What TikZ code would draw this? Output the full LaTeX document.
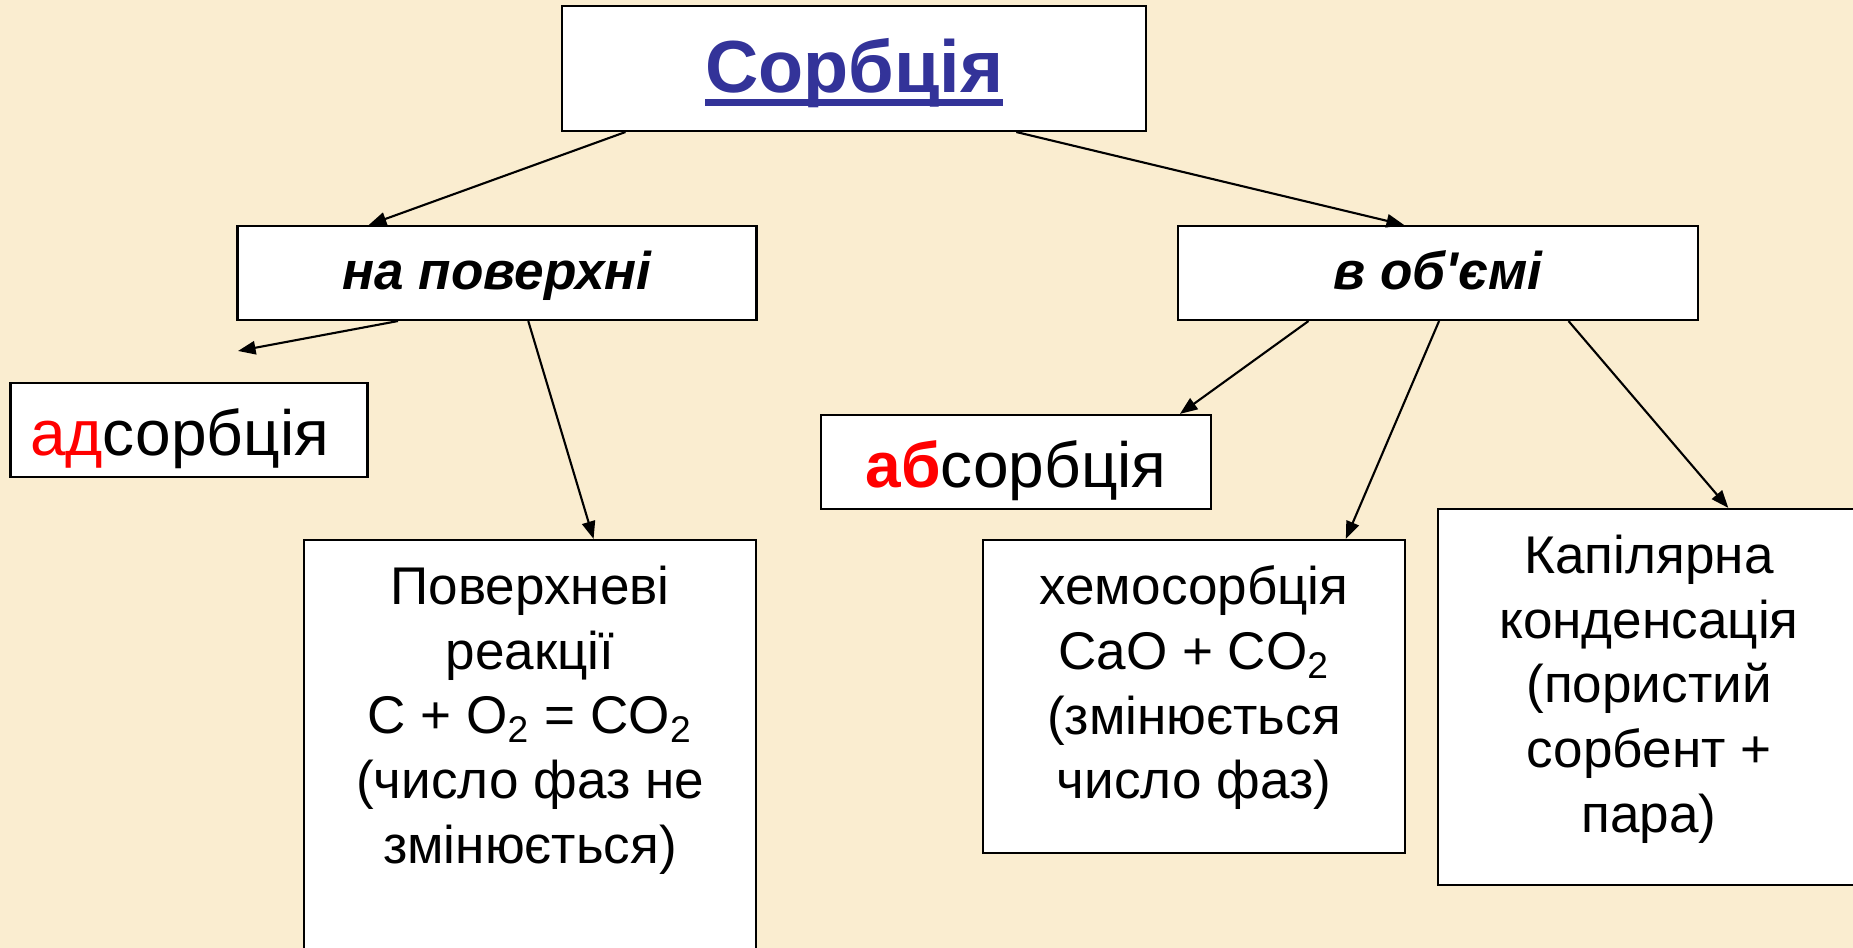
\documentclass[tikz,border=0pt]{standalone}
\usepackage{fontspec}
\setmainfont{Liberation Sans}
\usepackage{xcolor}
\usepackage{tikz}
\usetikzlibrary{arrows.meta,positioning,calc}
\definecolor{parchment}{HTML}{FAEDD0}
\definecolor{titleblue}{HTML}{333399}
\definecolor{prefixred}{HTML}{FF0000}
\newcommand\thickul[1]{\setbox0\hbox{#1}\rlap{\rule[-0.18em]{\wd0}{0.085em}}\box0}
\newcommand\boxtext[3]{\begin{minipage}[c][#1][t]{#2}\centering\vspace*{0.26cm}#3\end{minipage}}

\begin{document}
\begin{tikzpicture}[
    box/.style={draw, fill=white, line width=0.6pt, inner sep=0pt},
    bodytext/.style={font=\fontsize{15.1pt}{18.4pt}\selectfont, align=center},
    headtext/.style={font=\fontsize{15.1pt}{18.4pt}\selectfont\bfseries\itshape, text height=0.44cm, text depth=0.1cm},
    kindtext/.style={font=\fontsize{18.2pt}{21pt}\selectfont, text height=0.64cm, text depth=0.12cm},
    link/.style={-{Triangle[length=5pt,width=3.8pt]}, line width=0.6pt}
  ]
    \useasboundingbox (0,0) rectangle (18.53,-9.48);
    \fill[parchment] (0,0) rectangle (18.53,-9.48);
    \clip (0,0) rectangle (18.53,-9.48);
    \node[box, minimum width=5.84cm, minimum height=1.25cm, font=\fontsize{21pt}{24pt}\selectfont\bfseries, text=titleblue, text height=0.6cm, text depth=0.12cm] (sorb) at (8.54,-0.685) {\thickul{Сорбція}};
    \node[box, minimum width=5.19cm, minimum height=0.94cm, headtext] (surf) at (4.97,-2.73) {на поверхні};
    \node[box, minimum width=5.20cm, minimum height=0.94cm, headtext] (bulk) at (14.38,-2.73) {в об\textquotesingle ємі};
    \node[box, minimum width=3.57cm, minimum height=0.94cm, kindtext] (ads) at (1.89,-4.30) {\textcolor{prefixred}{ад}сорбція\kern0.19cm};
    \node[box, minimum width=3.90cm, minimum height=0.94cm, kindtext] (abs) at (10.16,-4.62) {\textcolor{prefixred}{\bfseries аб}сорбція};
    \node[box, bodytext] (react) at (5.30,-7.70) {\boxtext{4.6cm}{4.52cm}{Поверхневі\\реакції\\C + O\textsubscript{2} = CO\textsubscript{2}\\(число фаз не\\змінюється)}};
    \node[box, bodytext] (chem) at (11.94,-6.965) {\boxtext{3.13cm}{4.22cm}{хемосорбція\\CaO + CO\textsubscript{2}\\(змінюється\\число фаз)}};
    \node[box, bodytext] (capil) at (16.49,-6.97) {\boxtext{3.76cm}{4.22cm}{Капілярна\\конденсація\\(пористий\\сорбент +\\пара)}};
    \coordinate (adsend) at (2.38,-3.51);
    % arrows
    \draw[link] ($(sorb.south west)!0.11!(sorb.south east)$) -- ($(surf.north west)!0.254!(surf.north east)$);
    \draw[link] ($(sorb.south west)!0.777!(sorb.south east)$) -- ($(bulk.north west)!0.435!(bulk.north east)$);
    \draw[link] ($(surf.south west)!0.31!(surf.south east)$) -- (adsend);
    \draw[link] ($(surf.south west)!0.56!(surf.south east)$) -- ($(react.north west)!0.64!(react.north east)$);
    \draw[link] ($(bulk.south west)!0.252!(bulk.south east)$) -- ($(abs.north west)!0.918!(abs.north east)$);
    \draw[link] ($(bulk.south west)!0.502!(bulk.south east)$) -- ($(chem.north west)!0.858!(chem.north east)$);
    \draw[link] ($(bulk.south west)!0.75!(bulk.south east)$) -- ($(capil.north west)!0.687!(capil.north east)$);
\end{tikzpicture}
\end{document}
